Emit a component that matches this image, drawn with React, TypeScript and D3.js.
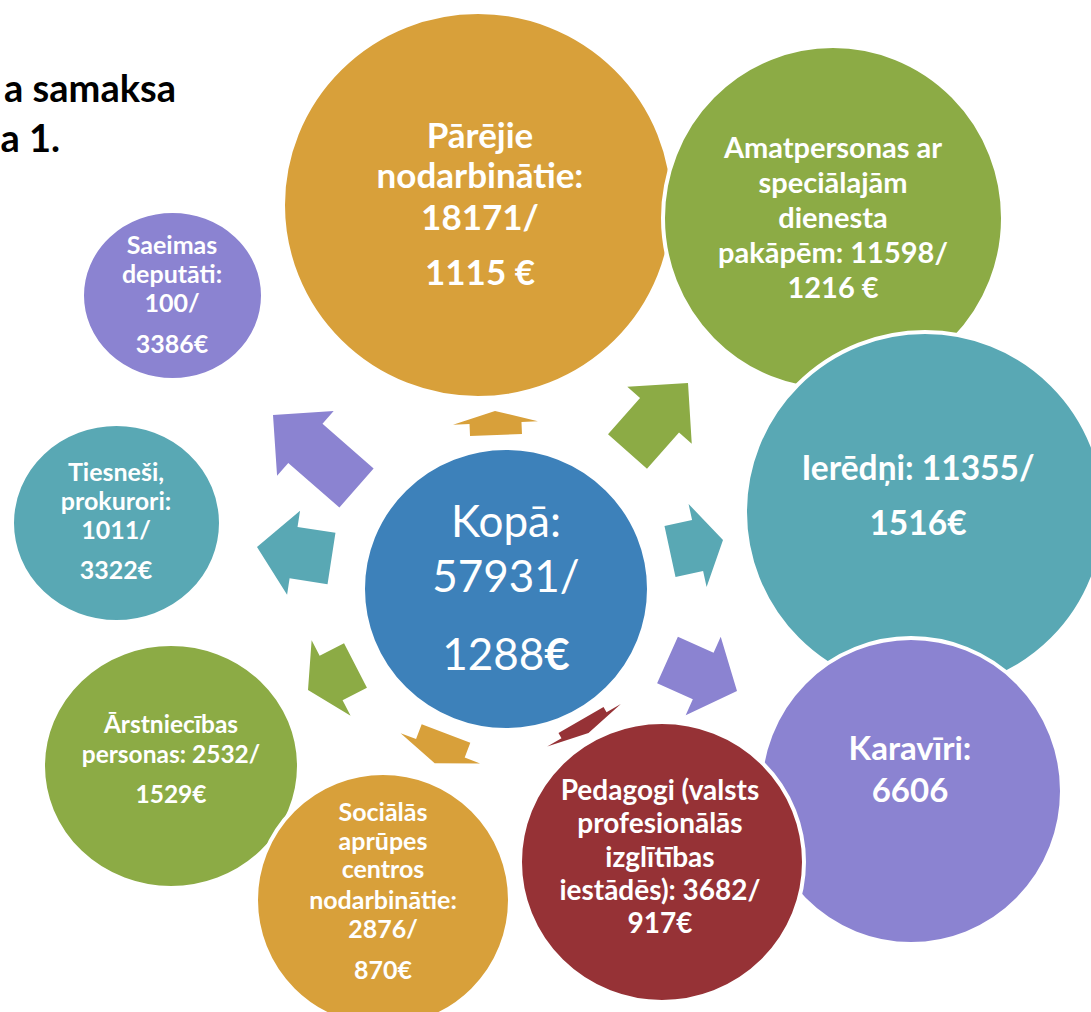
import React from "react";
import * as d3 from "d3";

// ---- data ----
const categories = [
  "Kopā",
  "Pārējie nodarbinātie",
  "Amatpersonas ar speciālajām dienesta pakāpēm",
  "Ierēdņi",
  "Karavīri",
  "Pedagogi (valsts profesionālās izglītības iestādēs)",
  "Sociālās aprūpes centros nodarbinātie",
  "Ārstniecības personas",
  "Tiesneši, prokurori",
  "Saeimas deputāti",
];
const employees = [57931, 18171, 11598, 11355, 6606, 3682, 2876, 2532, 1011, 100];
const salaries: (number | null)[] = [1288, 1115, 1216, 1516, null, 917, 870, 1529, 3322, 3386];
const titleLines = ["a samaksa", "a 1."];

// label lines (text built from data)
const labelLines: string[][] = [
  ["Kopā:", `${employees[0]}/`, `${salaries[0]}€`],
  ["Pārējie", "nodarbinātie:", `${employees[1]}/`, `${salaries[1]} €`],
  ["Amatpersonas ar", "speciālajām", "dienesta", `pakāpēm: ${employees[2]}/`, `${salaries[2]} €`],
  [`Ierēdņi: ${employees[3]}/`, `${salaries[3]}€`],
  ["Karavīri:", `${employees[4]}`],
  ["Pedagogi (valsts", "profesionālās", "izglītības", `iestādēs): ${employees[5]}/`, `${salaries[5]}€`],
  ["Sociālās", "aprūpes", "centros", "nodarbinātie:", `${employees[6]}/`, `${salaries[6]}€`],
  ["Ārstniecības", `personas: ${employees[7]}/`, `${salaries[7]}€`],
  ["Tiesneši,", "prokurori:", `${employees[8]}/`, `${salaries[8]}€`],
  ["Saeimas", "deputāti:", `${employees[9]}/`, `${salaries[9]}€`],
];

// ---- layout (positions, sizes, styles) ----
const bubbleLayout = [
  { cx: 506, cy: 589, rx: 143, ry: 141, fs: 44, bold: false, x: 506, baselines: [537, 592, 670] },
  { cx: 478, cy: 205, rx: 195, ry: 193, fs: 35, bold: true, x: 480, baselines: [148, 188, 230, 285] },
  { cx: 833, cy: 218, rx: 170, ry: 172, fs: 29, bold: true, x: 833, baselines: [158, 193, 228, 263, 298] },
  { cx: 925, cy: 512, rx: 180, ry: 180, fs: 33.5, bold: true, x: 918, baselines: [480, 535] },
  { cx: 911, cy: 791, rx: 151, ry: 153, fs: 33, bold: true, x: 910, baselines: [760, 802] },
  { cx: 662, cy: 862, rx: 142, ry: 140, fs: 28, bold: true, x: 660, baselines: [800, 833, 867, 900, 933] },
  { cx: 383, cy: 900, rx: 127, ry: 127, fs: 25, bold: true, x: 383, baselines: [821, 850, 878, 909, 938, 979] },
  { cx: 171, cy: 766, rx: 128, ry: 122, fs: 24.5, bold: true, x: 171, baselines: [733, 763, 803] },
  { cx: 116.5, cy: 523, rx: 104.5, ry: 99, fs: 25, bold: true, x: 116, baselines: [481, 510, 539, 579] },
  { cx: 172.5, cy: 295.5, rx: 90.5, ry: 84.5, fs: 25, bold: true, x: 172, baselines: [254, 283, 312, 353] },
];
const drawOrder = [1, 2, 3, 4, 5, 7, 6, 8, 9, 0];

const palette = ["#3D81BA", "#D8A03A", "#8CAB45", "#59A8B4", "#8B83D1", "#963236", "#D8A03A", "#8CAB45", "#59A8B4", "#8B83D1"];
const colour = d3.scaleOrdinal<number, string>().domain(d3.range(categories.length)).range(palette);

// arrows: target bubble, base centre, tip, shaft width, head width, head length
const arrowLayout = [
  { target: 1, base: [496, 435], tip: [495, 411], sw: 52, hw: 85, hl: 12 },
  { target: 2, base: [627.5, 451.5], tip: [688, 383], sw: 52, hw: 86, hl: 43 },
  { target: 3, base: [670, 551.5], tip: [723, 540], sw: 52, hw: 85, hl: 26 },
  { target: 4, base: [667.5, 660], tip: [737, 691], sw: 51, hw: 86, hl: 37 },
  { target: 5, base: [581, 720], tip: [588.5, 733], sw: 52, hw: 85, hl: 9 },
  { target: 6, base: [446, 733.5], tip: [434.7, 763.3], sw: 52, hw: 85, hl: 16 },
  { target: 7, base: [355.5, 665.5], tip: [308, 690], sw: 50, hw: 85, hl: 26 },
  { target: 8, base: [331.5, 558.5], tip: [257, 547], sw: 52, hw: 85, hl: 37 },
  { target: 9, base: [356.5, 488], tip: [273, 415], sw: 52, hw: 86, hl: 43 },
];

const FONT = "Lato, 'Open Sans', 'DejaVu Sans', sans-serif";

function arrowPoints(a: (typeof arrowLayout)[number]): [number, number][] {
  const [bx, by] = a.base;
  const [tx, ty] = a.tip;
  const len = Math.hypot(tx - bx, ty - by);
  const ux = (tx - bx) / len, uy = (ty - by) / len;
  const nx = -uy, ny = ux;
  const neckX = tx - ux * a.hl, neckY = ty - uy * a.hl;
  const s = a.sw / 2, h = a.hw / 2;
  return [
    [bx + nx * s, by + ny * s],
    [neckX + nx * s, neckY + ny * s],
    [neckX + nx * h, neckY + ny * h],
    [tx, ty],
    [neckX - nx * h, neckY - ny * h],
    [neckX - nx * s, neckY - ny * s],
    [bx - nx * s, by - ny * s],
  ];
}

const line = d3.line().curve(d3.curveLinearClosed);

export default function App() {
  return (
    <svg
      width={1091}
      height={1012}
      style={{ position: "absolute", left: 0, top: 0, background: "#fff" }}
      fontFamily={FONT}
    >
      {/* title (cropped) */}
      <g fill="#000" fontWeight={700} fontSize={38} textAnchor="end">
        <text x={176} y={102}>{titleLines[0]}</text>
        <text x={60} y={152}>{titleLines[1]}</text>
      </g>

      {/* arrows */}
      {arrowLayout.map((a, i) => (
        <path key={"a" + i} d={line(arrowPoints(a)) || ""} fill={colour(a.target)} />
      ))}

      {/* bubbles */}
      {drawOrder.map((i) => {
        const b = bubbleLayout[i];
        return (
          <g key={"b" + i}>
            <ellipse cx={b.cx} cy={b.cy} rx={b.rx} ry={b.ry} fill={colour(i)} stroke="#fff" strokeWidth={4} />
            <g fill="#fff" textAnchor="middle" fontSize={b.fs} fontWeight={b.bold ? 700 : 400}>
              {labelLines[i].map((t, j) => {
                if (i === 0 && t.endsWith("€")) {
                  return (
                    <text key={j} x={b.x} y={b.baselines[j]}>
                      {t.slice(0, -1)}
                      <tspan fontWeight={700}>€</tspan>
                    </text>
                  );
                }
                return (
                  <text key={j} x={b.x} y={b.baselines[j]}>
                    {t}
                  </text>
                );
              })}
            </g>
          </g>
        );
      })}
    </svg>
  );
}
